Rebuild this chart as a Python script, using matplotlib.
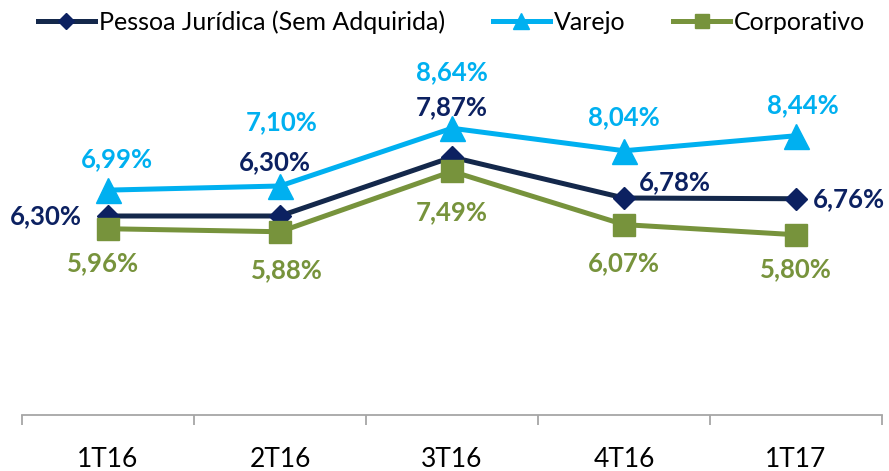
import matplotlib.pyplot as plt
from matplotlib.lines import Line2D

plt.rcParams['font.family'] = ['Lato', 'DejaVu Sans']

# data
periods = ['1T16', '2T16', '3T16', '4T16', '1T17']
pessoa = [6.30, 6.30, 7.87, 6.78, 6.76]
varejo = [6.99, 7.10, 8.64, 8.04, 8.44]
corporativo = [5.96, 5.88, 7.49, 6.07, 5.80]

navy_line = '#14284B'
navy = '#0C2161'
blue = '#00B0F0'
green = '#77933C'

fig = plt.figure(figsize=(8.89, 4.71), dpi=100)
ax = fig.add_axes([22 / 889, 1 - 415 / 471, 860 / 889, 355 / 471])

x = list(range(len(periods)))
ax.plot(x, pessoa, color=navy_line, lw=3.6, marker='D', ms=11.5,
        mfc=navy, mec=navy, label='Pessoa Jurídica (Sem Adquirida)', zorder=3)
ax.plot(x, varejo, color=blue, lw=3.6, marker='^', ms=18,
        mfc=blue, mec=blue, label='Varejo', zorder=3)
ax.plot(x, corporativo, color=green, lw=3.6, marker='s', ms=16,
        mfc=green, mec=green, label='Corporativo', zorder=4)

ax.set_xlim(-0.5, 4.5)
ax.set_ylim(0.993, 10.46)

# label offsets in pixels
off_p = [(-62, 0), (-5, 54), (0, 50), (51, 16), (53, 0)]
off_v = [(9, 31), (2, 64), (0, 56), (0, 34), (7, 31)]
off_c = [(-5, -34), (7, -38), (0, -41), (0, -39), (0, -34)]

for vals, offs, col in [(pessoa, off_p, navy), (varejo, off_v, blue),
                        (corporativo, off_c, green)]:
    for i, v in enumerate(vals):
        ax.annotate(f'{v:.2f}%'.replace('.', ','), (i, v), xytext=offs[i],
                    textcoords='offset pixels', ha='center', va='center',
                    fontsize=18.5, fontweight='bold', color=col, zorder=5)

for s in ['top', 'left', 'right']:
    ax.spines[s].set_visible(False)
ax.spines['bottom'].set_color('#A6A6A6')
ax.spines['bottom'].set_linewidth(1.3)
ax.set_yticks([])
ax.set_xticks(x)
ax.set_xticklabels(periods, fontsize=19, color='black')
ax.tick_params(axis='x', which='major', length=0, pad=23)
ax.set_xticks([i - 0.5 for i in range(len(periods) + 1)], minor=True)
ax.tick_params(axis='x', which='minor', length=7, width=1.3, color='#A6A6A6',
               direction='out')

handles = [
    Line2D([], [], color=navy_line, lw=3.6, marker='D', ms=8, mfc=navy, mec=navy),
    Line2D([], [], color=blue, lw=3.6, marker='^', ms=11, mfc=blue, mec=blue),
    Line2D([], [], color=green, lw=3.6, marker='s', ms=10, mfc=green, mec=green),
]
fig.legend(handles, ['Pessoa Jurídica (Sem Adquirida)', 'Varejo', 'Corporativo'],
           loc='center', bbox_to_anchor=(0.508, 1 - 22 / 471), ncol=3,
           frameon=False, fontsize=18, handlelength=2.3, handletextpad=0.15,
           columnspacing=1.9)

fig.savefig('out.png', dpi=100)
